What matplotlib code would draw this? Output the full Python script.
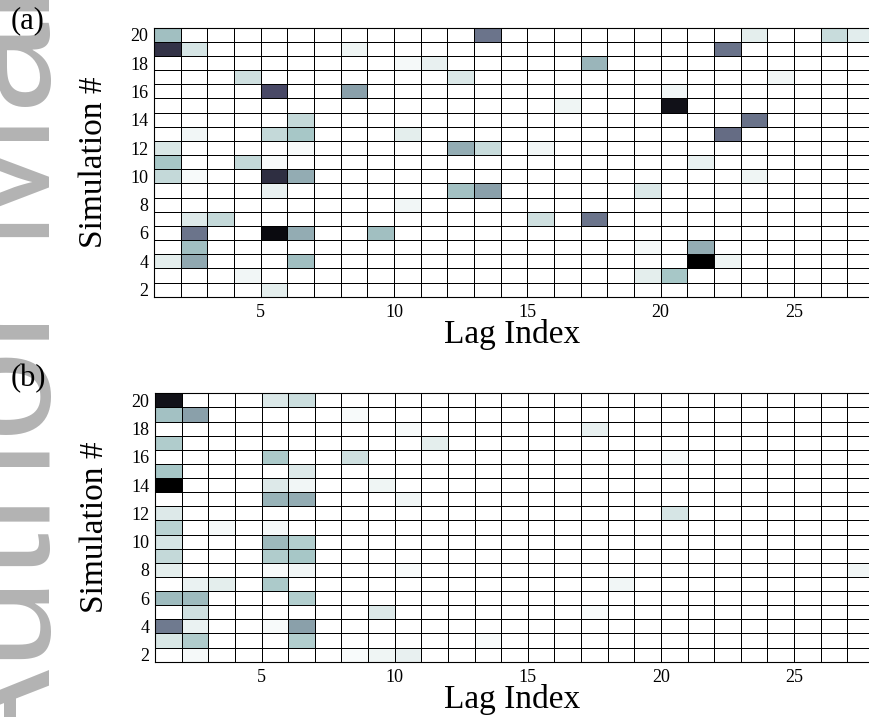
import numpy as np
import matplotlib.pyplot as plt

# simulations 2..20 (rows), lag index 1..27 (columns)
sims = list(range(2, 21))
lags = list(range(1, 28))

# (simulation, lag, value) for the non-empty cells
cells_a = [
    (20, 1, 0.28), (20, 13, 0.52), (20, 23, 0.08), (20, 26, 0.16), (20, 27, 0.085),
    (19, 1, 0.77), (19, 2, 0.12), (19, 8, 0.05), (19, 22, 0.53),
    (18, 10, 0.03), (18, 11, 0.07), (18, 17, 0.31),
    (17, 4, 0.14), (17, 12, 0.105), (17, 24, 0.04),
    (16, 5, 0.67), (16, 8, 0.38), (16, 20, 0.04),
    (15, 16, 0.05), (15, 20, 0.92),
    (14, 6, 0.17), (14, 23, 0.53),
    (13, 2, 0.04), (13, 5, 0.17), (13, 6, 0.25), (13, 10, 0.08), (13, 22, 0.55),
    (12, 1, 0.11), (12, 6, 0.025), (12, 12, 0.34), (12, 13, 0.16), (12, 15, 0.04),
    (11, 1, 0.25), (11, 4, 0.17), (11, 5, 0.025), (11, 21, 0.065),
    (10, 1, 0.17), (10, 2, 0.025), (10, 5, 0.79), (10, 6, 0.34), (10, 23, 0.05),
    (9, 5, 0.065), (9, 12, 0.27), (9, 13, 0.38), (9, 19, 0.105),
    (8, 10, 0.04),
    (7, 2, 0.10), (7, 3, 0.17), (7, 15, 0.14), (7, 17, 0.52),
    (6, 2, 0.52), (6, 5, 0.95), (6, 6, 0.34), (6, 9, 0.28),
    (5, 2, 0.28), (5, 19, 0.03), (5, 21, 0.34),
    (4, 1, 0.08), (4, 2, 0.355), (4, 6, 0.28), (4, 21, 1.00), (4, 22, 0.05),
    (3, 4, 0.04), (3, 19, 0.08), (3, 20, 0.25),
    (2, 5, 0.08),
]

cells_b = [
    (20, 1, 0.92), (20, 5, 0.105), (20, 6, 0.15),
    (19, 1, 0.27), (19, 2, 0.38), (19, 8, 0.025),
    (18, 10, 0.025), (18, 17, 0.07),
    (17, 1, 0.23), (17, 11, 0.08),
    (16, 5, 0.24), (16, 8, 0.14), (16, 20, 0.02),
    (15, 1, 0.25), (15, 6, 0.10),
    (14, 1, 1.00), (14, 5, 0.10), (14, 6, 0.04), (14, 9, 0.05),
    (13, 5, 0.32), (13, 6, 0.34), (13, 10, 0.04),
    (12, 1, 0.10), (12, 20, 0.12),
    (11, 1, 0.20), (11, 3, 0.03), (11, 5, 0.03),
    (10, 1, 0.12), (10, 5, 0.30), (10, 6, 0.22),
    (9, 1, 0.17), (9, 5, 0.23), (9, 6, 0.25),
    (8, 1, 0.08), (8, 5, 0.025), (8, 6, 0.04), (8, 10, 0.02), (8, 27, 0.04),
    (7, 2, 0.06), (7, 3, 0.08), (7, 5, 0.24), (7, 18, 0.04),
    (6, 1, 0.29), (6, 2, 0.29), (6, 6, 0.22),
    (5, 2, 0.14), (5, 9, 0.10), (5, 17, 0.02),
    (4, 1, 0.50), (4, 2, 0.06), (4, 5, 0.025), (4, 6, 0.38),
    (3, 1, 0.11), (3, 2, 0.23), (3, 6, 0.22), (3, 13, 0.02),
    (2, 2, 0.03), (2, 8, 0.02), (2, 9, 0.05), (2, 10, 0.07),
]

xticks = [5, 10, 15, 20, 25]
yticks = [2, 4, 6, 8, 10, 12, 14, 16, 18, 20]

serif = 'Liberation Serif'


def to_grid(cells):
    grid = np.zeros((len(sims), len(lags)))
    for s, l, v in cells:
        grid[sims.index(s), lags.index(l)] = v
    return grid


def draw(ax, cells):
    grid = to_grid(cells)
    xe = np.arange(lags[0], lags[-1] + 2)          # cell k spans [k, k+1]
    ye = np.arange(sims[0] - 0.5, sims[-1] + 1)    # rows centred on sim number
    ax.pcolormesh(xe, ye, grid, cmap='bone_r', vmin=0, vmax=1,
                  edgecolors='black', linewidth=0.7)
    ax.set_xlim(1, 27.85)
    ax.set_ylim(sims[0] - 0.5, sims[-1] + 0.5)
    ax.set_xticks(xticks)
    ax.set_yticks(yticks)
    ax.tick_params(length=0, labelsize=13)
    ax.tick_params(axis='x', pad=5)
    ax.tick_params(axis='y', pad=4)
    for lab in ax.get_xticklabels() + ax.get_yticklabels():
        lab.set_family(serif)
    ax.spines['right'].set_visible(False)
    ax.set_xlabel('Lag Index', family=serif, fontsize=24, labelpad=-1)
    ax.set_ylabel('Simulation #', family=serif, fontsize=24, labelpad=15)


fig = plt.figure(figsize=(8.7, 7.17), dpi=100)

# watermark of the manuscript page
fig.text(50 / 870, -0.085, 'Author Manuscript', rotation=90, rotation_mode='anchor',
         ha='left', va='baseline', fontsize=118, color='#b3b3b3',
         family='Liberation Sans', zorder=0)

ax_a = fig.add_axes([154 / 870, 0.5862, 716 / 870, 0.3752])
draw(ax_a, cells_a)
ax_b = fig.add_axes([155 / 870, 0.0771, 715 / 870, 0.3743])
draw(ax_b, cells_b)

fig.text(28 / 870, 1 - 21 / 717, '(a)', family=serif, fontsize=22, ha='center', va='center')
fig.text(28 / 870, 1 - 379 / 717, '(b)', family=serif, fontsize=22, ha='center', va='center')

fig.savefig('out.png', dpi=100)
